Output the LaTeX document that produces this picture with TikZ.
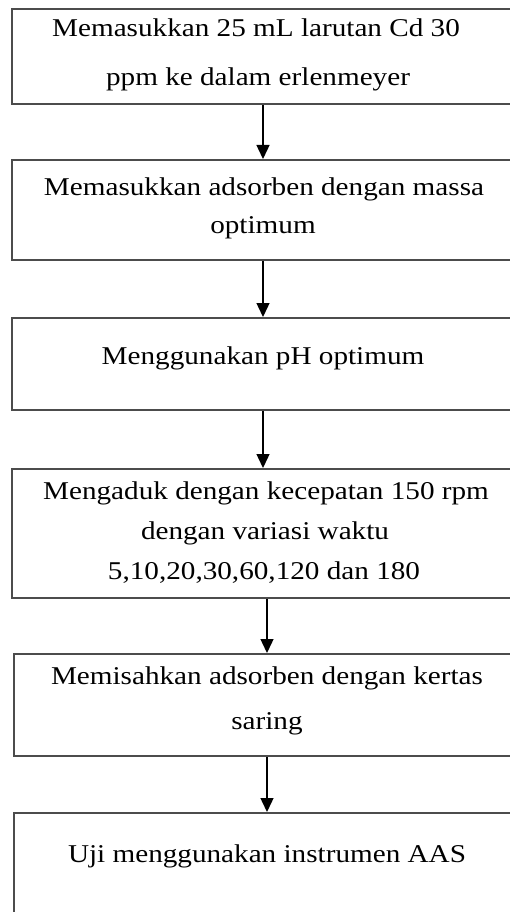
\documentclass[tikz,border=0pt]{standalone}
\usepackage{fontspec}
\setmainfont[FakeStretch=1.14]{Liberation Serif}
\usetikzlibrary{arrows.meta}
\begin{document}
\begin{tikzpicture}[x=1pt,y=-1pt,
  box/.style={draw=black!70, line width=2pt, rectangle, inner sep=0pt, minimum width=502pt},
  txt/.style={anchor=base, inner sep=0pt, font=\fontsize{25.6}{30}\selectfont},
  arr/.style={draw=black, line width=1.4pt, -{Triangle[width=13pt,length=14pt]}}]
\useasboundingbox (0,0) rectangle (510,912);
\clip (0,0) rectangle (510,912);
\fill[white] (0,0) rectangle (510,912);
% boxes
\node[box, minimum height=95pt]  (b1) at (263,56.5) {};
\node[box, minimum height=100pt] (b2) at (263,210) {};
\node[box, minimum height=92pt]  (b3) at (263,364) {};
\node[box, minimum height=129pt] (b4) at (263,533.5) {};
\node[box, minimum height=102pt] (b5) at (265,705) {};
\node[box, minimum height=147pt] (b6) at (265,886.5) {};
% texts
\node[txt] (t1a) at (256,37) {Memasukkan 25 mL larutan Cd 30};
\node[txt] (t1b) at (258,86) {ppm ke dalam erlenmeyer};
\node[txt] (t2a) at (264,196) {Memasukkan adsorben dengan massa};
\node[txt] (t2b) at (263,233) {optimum};
\node[txt] (t3)  at (263,364) {Menggunakan pH optimum};
\node[txt] (t4a) at (266,499) {Mengaduk dengan kecepatan 150 rpm};
\node[txt] (t4b) at (265,539) {dengan variasi waktu};
\node[txt] (t4c) at (264,579) {5,10,20,30,60,120 dan 180};
\node[txt] (t5a) at (267,684) {Memisahkan adsorben dengan kertas};
\node[txt] (t5b) at (267,729) {saring};
\node[txt] (t6)  at (267,862) {Uji menggunakan instrumen AAS};
% arrows
\draw[arr] (b1.south) -- (b2.north);
\draw[arr] (b2.south) -- (b3.north);
\draw[arr] (b3.south) -- (b4.north);
\draw[arr] ([xshift=4pt]b4.south) -- ([xshift=2pt]b5.north);
\draw[arr] ([xshift=2pt]b5.south) -- ([xshift=2pt]b6.north);
\end{tikzpicture}
\end{document}
